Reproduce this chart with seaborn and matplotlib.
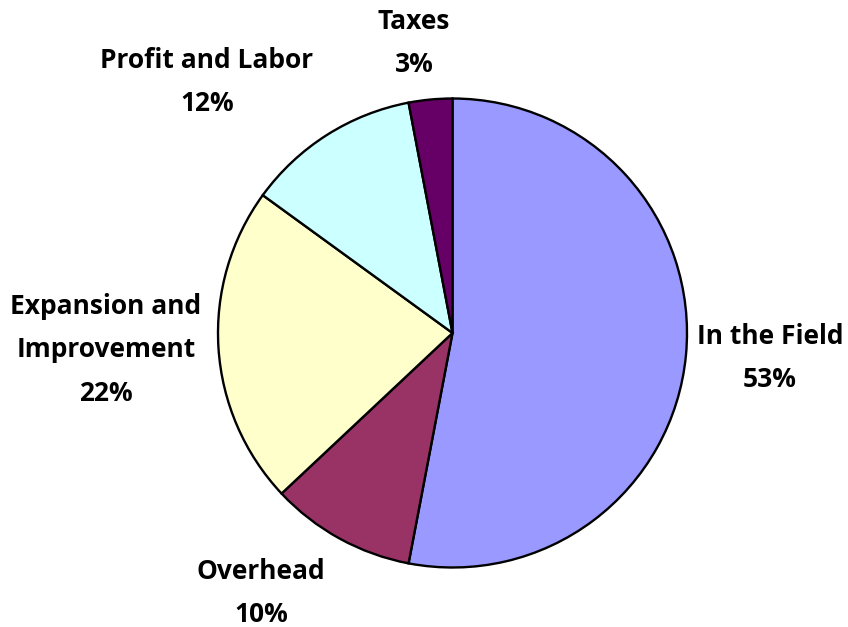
import matplotlib.pyplot as plt
import seaborn as sns

# data
categories = ["In the Field", "Overhead", "Expansion and\nImprovement",
              "Profit and Labor", "Taxes"]
shares = [53, 10, 22, 12, 3]
slice_colors = ["#9999FF", "#993366", "#FFFFCC", "#CCFFFF", "#660066"]

# label block centres in pie-radius units
label_pos = [(1.354, -0.107), (-0.817, -1.109), (-1.478, -0.072),
             (-1.047, 1.070), (-0.164, 1.237)]

sns.set_theme(style="white")
plt.rcParams["font.family"] = ["Open Sans", "DejaVu Sans"]

fig = plt.figure(figsize=(8.48, 6.27), dpi=100)
ax = fig.add_axes([0, 0, 1, 1])

wedges, _ = ax.pie(
    shares,
    colors=sns.color_palette(slice_colors),
    startangle=90,
    counterclock=False,
    wedgeprops=dict(edgecolor="black", linewidth=1.7),
)

for name, val, (x, y) in zip(categories, shares, label_pos):
    ax.text(x, y, f"{name}\n{val}%", ha="center", va="center",
            multialignment="center", fontsize=19, fontweight="bold",
            color="black", linespacing=1.78)

# pixel scale: centre (452.5, 333), radius 234.5 px
r = 234.5
ax.set_xlim(-452.5 / r, (848 - 452.5) / r)
ax.set_ylim(-(627 - 333) / r, 333 / r)
ax.set_aspect("auto")
ax.axis("off")

fig.savefig("out.png", dpi=100)
